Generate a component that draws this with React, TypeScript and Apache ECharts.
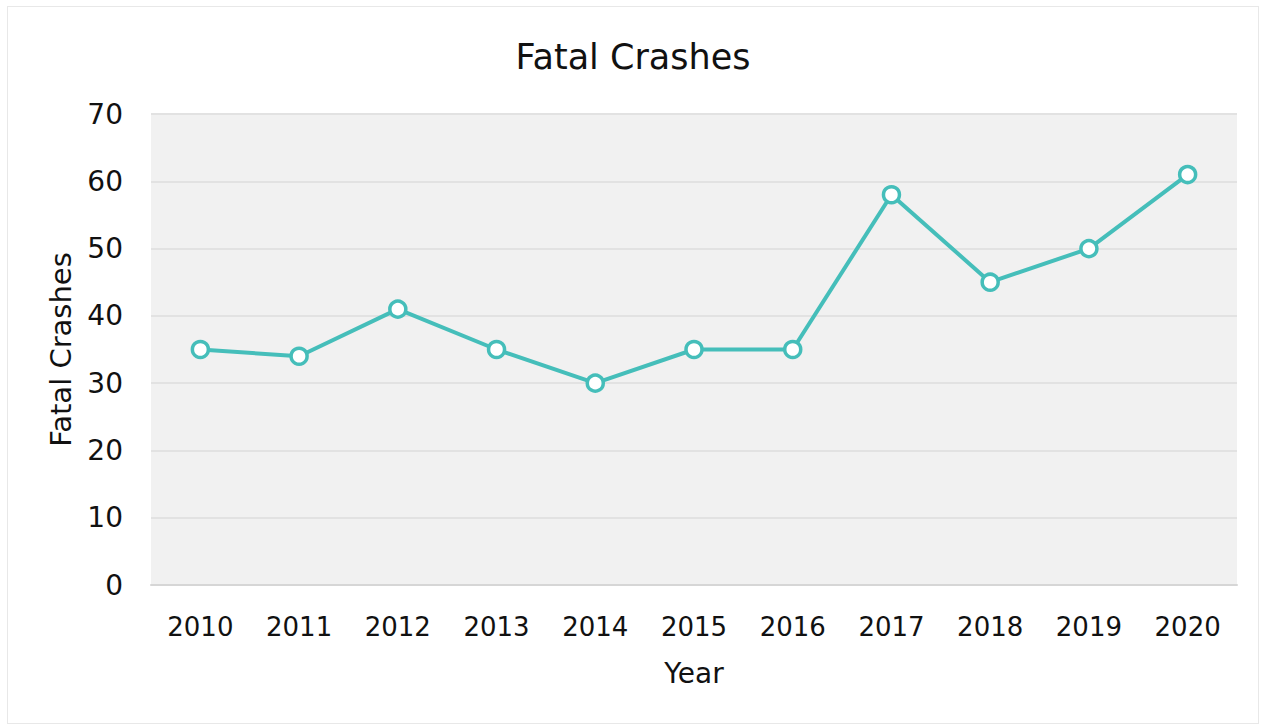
import React, { useEffect, useRef } from "react";
import * as echarts from "echarts";

const years = ["2010", "2011", "2012", "2013", "2014", "2015", "2016", "2017", "2018", "2019", "2020"];
const fatalCrashes = [35, 34, 41, 35, 30, 35, 35, 58, 45, 50, 61];
const chartTitle = "Fatal Crashes";
const xName = "Year";
const yName = "Fatal Crashes";

const FONT = "'DejaVu Sans', sans-serif";

export default function App() {
  const ref = useRef<HTMLDivElement>(null);
  useEffect(() => {
    if (!ref.current) return;
    const chart = echarts.init(ref.current, undefined, { renderer: "svg" });
    chart.setOption({
      animation: false,
      backgroundColor: "#ffffff",
      textStyle: { fontFamily: FONT },
      title: {
        text: chartTitle,
        left: "center",
        top: 27,
        textStyle: { fontFamily: FONT, fontSize: 35, fontWeight: "normal", color: "#111" },
      },
      grid: {
        left: 143,
        right: 21,
        top: 107,
        bottom: 138,
        show: true,
        backgroundColor: "#f1f1f1",
        borderWidth: 0,
      },
      xAxis: {
        type: "category",
        data: years,
        boundaryGap: true,
        name: xName,
        nameLocation: "middle",
        nameGap: 74,
        nameTextStyle: { fontFamily: FONT, fontSize: 28, color: "#111" },
        axisLine: { show: true, lineStyle: { color: "#d6d6d6", width: 2 } },
        axisTick: { show: false },
        axisLabel: { margin: 29, fontFamily: FONT, fontSize: 26, color: "#111" },
        splitLine: { show: false },
      },
      yAxis: {
        type: "value",
        min: 0,
        max: 70,
        interval: 10,
        name: yName,
        nameLocation: "middle",
        nameGap: 76,
        nameTextStyle: { fontFamily: FONT, fontSize: 29, color: "#111" },
        axisLine: { show: false },
        axisTick: { show: false },
        axisLabel: { margin: 28, fontFamily: FONT, fontSize: 28, color: "#111" },
        splitLine: { show: true, lineStyle: { color: "#e2e2e2", width: 2 } },
      },
      series: [
        {
          type: "line",
          data: fatalCrashes,
          symbol: "circle",
          symbolSize: 16,
          lineStyle: { color: "#45beba", width: 4 },
          itemStyle: { color: "#ffffff", borderColor: "#45beba", borderWidth: 3.5 },
        },
      ],
    });
    return () => chart.dispose();
  }, []);
  return (
    <div
      ref={ref}
      style={{
        position: "absolute",
        left: 7,
        top: 6,
        width: 1250,
        height: 716,
        border: "1px solid #e8e8e8",
      }}
    />
  );
}
